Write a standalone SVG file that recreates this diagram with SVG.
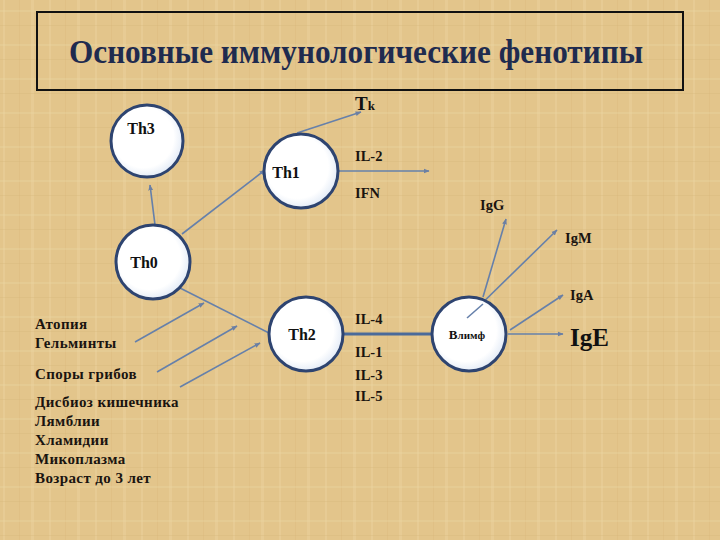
<svg xmlns="http://www.w3.org/2000/svg" width="720" height="540" viewBox="0 0 720 540">
<defs>
<pattern id="tex" width="46" height="34" patternUnits="userSpaceOnUse">
<rect width="46" height="34" fill="#E3C58B"/>
<rect x="3" y="0" width="2" height="34" fill="#ECD29F" opacity="0.45"/>
<rect x="19" y="0" width="1" height="34" fill="#D8B87C" opacity="0.35"/>
<rect x="31" y="0" width="3" height="34" fill="#EDD6A5" opacity="0.35"/>
<rect x="0" y="10" width="46" height="2" fill="#EED7A6" opacity="0.3"/>
<rect x="0" y="25" width="46" height="1" fill="#D6B579" opacity="0.3"/>
</pattern>
<radialGradient id="cg" cx="0.45" cy="0.45" r="0.6">
<stop offset="0.7" stop-color="#FFFFFF"/>
<stop offset="1" stop-color="#DCE6F4"/>
</radialGradient>
<marker id="ah" viewBox="0 0 10 10" refX="9" refY="5" markerWidth="6" markerHeight="6" markerUnits="userSpaceOnUse" orient="auto">
<path d="M0,1 L10,5 L0,9 Z" fill="#6B7FA3"/>
</marker>
</defs>
<style>
.cell{fill:url(#cg);stroke:#2E4470;stroke-width:3}
.con{stroke:#6680AA;stroke-width:1.6;fill:none;marker-end:url(#ah)}
.nl{font-family:"Liberation Serif","DejaVu Serif",serif;font-weight:bold;fill:#111;font-size:16px}
.lb{font-family:"Liberation Serif","DejaVu Serif",serif;font-weight:bold;fill:#1a1410;font-size:14.5px}
.ls{font-family:"Liberation Serif","DejaVu Serif",serif;font-weight:bold;fill:#1a1410;font-size:15px;letter-spacing:0.4px}
</style>
<rect width="720" height="540" fill="url(#tex)"/>
<g id="title">
<rect x="37" y="12" width="646" height="78" fill="none" stroke="#111" stroke-width="2"/>
<text x="356" y="63" text-anchor="middle" font-family="Liberation Serif, DejaVu Serif, serif" font-weight="bold" font-size="34" fill="#1F2B4F" textLength="574" lengthAdjust="spacingAndGlyphs">Основные иммунологические фенотипы</text>
</g>
<g id="connectors">
<line class="con" x1="297" y1="133" x2="361" y2="112"/>
<line class="con" x1="339" y1="171" x2="429" y2="171"/>
<line class="con" x1="155" y1="225" x2="150" y2="185"/>
<line class="con" x1="182" y1="234" x2="265" y2="170"/>
<line x1="178" y1="287" x2="269" y2="333" stroke="#6680AA" stroke-width="1.6"/>
<line class="con" x1="135" y1="342" x2="204" y2="303"/>
<line class="con" x1="157" y1="372" x2="237" y2="326"/>
<line class="con" x1="180" y1="387" x2="260" y2="343"/>
<line x1="343" y1="334" x2="432" y2="334" stroke="#4A6A9A" stroke-width="3"/>
<line class="con" x1="483" y1="297" x2="506" y2="219"/>
<line class="con" x1="467" y1="318" x2="557" y2="230"/>
<line class="con" x1="510" y1="330" x2="563" y2="295"/>
<line class="con" x1="508" y1="334" x2="563" y2="334"/>
</g>
<g id="Th3">
<circle class="cell" cx="147" cy="141" r="36"/>
<text class="nl" x="141" y="134" text-anchor="middle">Th3</text>
</g>
<g id="Th1">
<circle class="cell" cx="301" cy="171" r="37"/>
<text class="nl" x="286" y="178" text-anchor="middle">Th1</text>
</g>
<g id="Th0">
<circle class="cell" cx="153" cy="262" r="37"/>
<text class="nl" x="144" y="268" text-anchor="middle">Th0</text>
</g>
<g id="Th2">
<circle class="cell" cx="306" cy="334" r="37"/>
<text class="nl" x="302" y="340" text-anchor="middle">Th2</text>
</g>
<g id="Blymph">
<circle class="cell" cx="469" cy="334" r="37"/>
<line x1="467" y1="318" x2="483" y2="304" stroke="#6680AA" stroke-width="1.6"/>
<text x="467" y="339" text-anchor="middle" font-family="Liberation Serif, DejaVu Serif, serif" font-weight="bold" font-size="13" fill="#111">В<tspan font-size="11">лимф</tspan></text>
</g>
<g id="labels">
<text x="355" y="110" font-family="Liberation Serif, DejaVu Serif, serif" font-weight="bold" font-size="19" fill="#111">T<tspan font-size="13">k</tspan></text>
<text class="lb" x="355" y="161">IL-2</text>
<text class="lb" x="355" y="198">IFN</text>
<text class="lb" x="480" y="210">IgG</text>
<text class="lb" x="565" y="243">IgM</text>
<text class="lb" x="570" y="300">IgA</text>
<text x="570" y="346" font-family="Liberation Serif, DejaVu Serif, serif" font-weight="bold" font-size="25" fill="#111">IgE</text>
<text class="lb" x="355" y="324">IL-4</text>
<text class="lb" x="355" y="357">IL-1</text>
<text class="lb" x="355" y="380">IL-3</text>
<text class="lb" x="355" y="401">IL-5</text>
<text class="ls" x="35" y="329">Атопия</text>
<text class="ls" x="35" y="348">Гельминты</text>
<text class="ls" x="35" y="379">Споры грибов</text>
<text class="ls" x="35" y="407">Дисбиоз кишечника</text>
<text class="ls" x="35" y="426">Лямблии</text>
<text class="ls" x="35" y="445">Хламидии</text>
<text class="ls" x="35" y="464">Микоплазма</text>
<text class="ls" x="35" y="483">Возраст до 3 лет</text>
</g>
</svg>
